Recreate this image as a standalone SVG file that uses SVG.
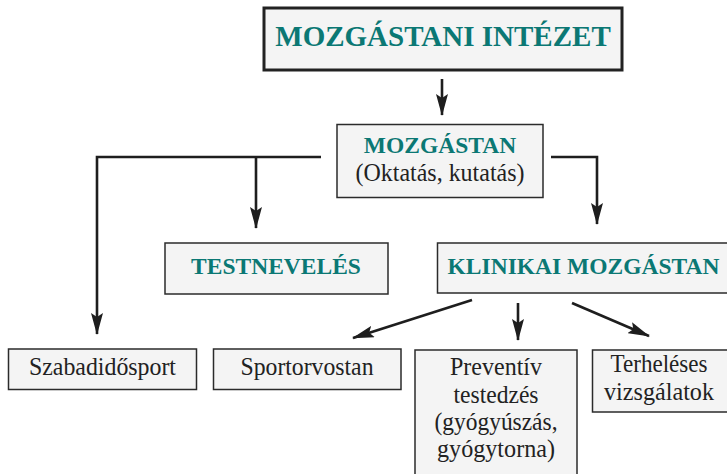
<svg xmlns="http://www.w3.org/2000/svg" width="727" height="474" viewBox="0 0 727 474">
<style>
.box{fill:#f4f4f4;stroke:#2b2b2b;stroke-width:1.5}
.main{fill:#f4f4f4;stroke:#222;stroke-width:3}
text{font-family:'Liberation Serif','Times New Roman',serif}
.h{font-weight:bold;fill:#0b7874;text-anchor:middle}
.t{fill:#222;text-anchor:middle;font-size:25px}
.c{fill:none;stroke:#1e1e1e;stroke-width:2.6}
</style>
<defs>
<marker id="ah" markerUnits="userSpaceOnUse" markerWidth="22" markerHeight="12" refX="21" refY="6" orient="auto">
<path d="M0,0 L22,6 L0,12 L4,6 z" fill="#1e1e1e"/>
</marker>
</defs>
<g id="connectors">
<path class="c" d="M442,79 V115" marker-end="url(#ah)"/>
<path class="c" d="M321,157 H97 V334" marker-end="url(#ah)"/>
<path class="c" d="M256,157 V228" marker-end="url(#ah)"/>
<path class="c" d="M551,157 H597 V224" marker-end="url(#ah)"/>
<path class="c" d="M472,300 L353,338" marker-end="url(#ah)"/>
<path class="c" d="M518,303 V340" marker-end="url(#ah)"/>
<path class="c" d="M572,303 L649,336" marker-end="url(#ah)"/>
</g>
<g id="intezet">
<rect class="main" x="264" y="8" width="358" height="62"/>
<text class="h" x="443" y="46" font-size="29">MOZGÁSTANI INTÉZET</text>
</g>
<g id="mozgastan">
<rect class="box" x="337" y="124.5" width="206" height="73"/>
<text class="h" x="440" y="153" font-size="23.5">MOZGÁSTAN</text>
<text class="t" x="440" y="181" textLength="169" lengthAdjust="spacingAndGlyphs">(Oktatás, kutatás)</text>
</g>
<g id="testneveles">
<rect class="box" x="165" y="243" width="223" height="51"/>
<text class="h" x="276" y="274" font-size="23.5">TESTNEVELÉS</text>
</g>
<g id="klinikai">
<rect class="box" x="437.5" y="243" width="291" height="50"/>
<text class="h" x="583.5" y="274" font-size="23.5">KLINIKAI MOZGÁSTAN</text>
</g>
<g id="szabadido">
<rect class="box" x="8.5" y="349" width="188" height="40.5"/>
<text class="t" x="102.5" y="375" textLength="147" lengthAdjust="spacingAndGlyphs">Szabadidősport</text>
</g>
<g id="sportorvostan">
<rect class="box" x="213.5" y="349" width="187.5" height="40.5"/>
<text class="t" x="307" y="375" textLength="133" lengthAdjust="spacingAndGlyphs">Sportorvostan</text>
</g>
<g id="preventiv">
<rect class="box" x="415" y="350" width="162" height="130"/>
<text class="t" x="496" y="375" textLength="92" lengthAdjust="spacingAndGlyphs">Preventív</text>
<text class="t" x="496" y="403" textLength="85" lengthAdjust="spacingAndGlyphs">testedzés</text>
<text class="t" x="496" y="430" textLength="123" lengthAdjust="spacingAndGlyphs">(gyógyúszás,</text>
<text class="t" x="496" y="457" textLength="118" lengthAdjust="spacingAndGlyphs">gyógytorna)</text>
</g>
<g id="terheleses">
<rect class="box" x="592.5" y="350" width="140" height="62"/>
<text class="t" x="659" y="372" textLength="97" lengthAdjust="spacingAndGlyphs">Terheléses</text>
<text class="t" x="659" y="400" textLength="110" lengthAdjust="spacingAndGlyphs">vizsgálatok</text>
</g>
</svg>
